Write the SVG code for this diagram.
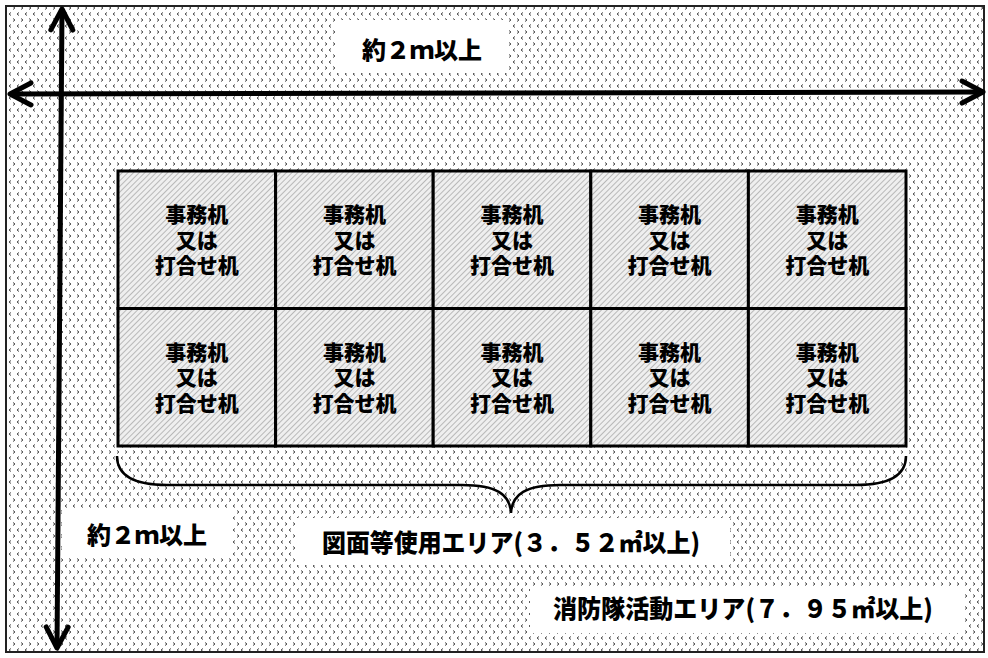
<svg xmlns="http://www.w3.org/2000/svg" width="988" height="658" viewBox="0 0 988 658">
  <defs>
    <pattern id="dots" patternUnits="userSpaceOnUse" width="8" height="12">
      <rect width="8" height="12" fill="#ffffff"/>
      <path d="M3,0.5 L1,2 L3,3.5" fill="none" stroke="#4a4a4a" stroke-width="1"/>
      <path d="M5,6.5 L7,8 L5,9.5" fill="none" stroke="#4a4a4a" stroke-width="1"/>
    </pattern>
    <pattern id="hatch" patternUnits="userSpaceOnUse" width="4" height="4" patternTransform="rotate(45)">
      <rect width="4" height="4" fill="#efefef"/>
      <line x1="0" y1="0" x2="0" y2="4" stroke="#9a9a9a" stroke-width="1.3"/>
    </pattern>
    <marker id="arrow" markerUnits="userSpaceOnUse" viewBox="-26 -14 30 28" refX="0" refY="0" markerWidth="30" markerHeight="28" orient="auto-start-reverse">
      <path d="M-21,-11 L0,0 L-21,11" fill="none" stroke="#000" stroke-width="5" stroke-linecap="round" stroke-linejoin="round"/>
    </marker>
  </defs>
  <style>
    .cell rect { fill: url(#hatch); stroke: #000; stroke-width: 3; }
    .cell text { font-family: "Noto Sans CJK JP", "Noto Sans", sans-serif; font-weight: 900; font-size: 21px; text-anchor: middle; fill: #000; }
    .label rect { fill: #ffffff; stroke: none; }
    .label text { font-family: "Noto Sans CJK JP", "Noto Sans", sans-serif; font-weight: 900; text-anchor: middle; fill: #000; }
    .arrow { fill: none; stroke: #000; stroke-width: 5; marker-start: url(#arrow); marker-end: url(#arrow); }
    .brace { fill: none; stroke: #000; stroke-width: 2.5; }
  </style>

  <rect id="background" x="6" y="6" width="978" height="646" fill="url(#dots)" stroke="#222" stroke-width="2"/>

  <g id="cells">
    <g id="cell-1-1" class="cell"><rect x="118" y="171" width="157.6" height="137.5"/><text x="196.8" y="222">事務机<tspan x="196.8" dy="25.5">又は</tspan><tspan x="196.8" dy="25.5">打合せ机</tspan></text></g>
    <g id="cell-1-2" class="cell"><rect x="275.6" y="171" width="157.6" height="137.5"/><text x="354.4" y="222">事務机<tspan x="354.4" dy="25.5">又は</tspan><tspan x="354.4" dy="25.5">打合せ机</tspan></text></g>
    <g id="cell-1-3" class="cell"><rect x="433.2" y="171" width="157.6" height="137.5"/><text x="512" y="222">事務机<tspan x="512" dy="25.5">又は</tspan><tspan x="512" dy="25.5">打合せ机</tspan></text></g>
    <g id="cell-1-4" class="cell"><rect x="590.8" y="171" width="157.6" height="137.5"/><text x="669.6" y="222">事務机<tspan x="669.6" dy="25.5">又は</tspan><tspan x="669.6" dy="25.5">打合せ机</tspan></text></g>
    <g id="cell-1-5" class="cell"><rect x="748.4" y="171" width="157.6" height="137.5"/><text x="827.2" y="222">事務机<tspan x="827.2" dy="25.5">又は</tspan><tspan x="827.2" dy="25.5">打合せ机</tspan></text></g>
    <g id="cell-2-1" class="cell"><rect x="118" y="308.5" width="157.6" height="137.5"/><text x="196.8" y="359.5">事務机<tspan x="196.8" dy="25.5">又は</tspan><tspan x="196.8" dy="25.5">打合せ机</tspan></text></g>
    <g id="cell-2-2" class="cell"><rect x="275.6" y="308.5" width="157.6" height="137.5"/><text x="354.4" y="359.5">事務机<tspan x="354.4" dy="25.5">又は</tspan><tspan x="354.4" dy="25.5">打合せ机</tspan></text></g>
    <g id="cell-2-3" class="cell"><rect x="433.2" y="308.5" width="157.6" height="137.5"/><text x="512" y="359.5">事務机<tspan x="512" dy="25.5">又は</tspan><tspan x="512" dy="25.5">打合せ机</tspan></text></g>
    <g id="cell-2-4" class="cell"><rect x="590.8" y="308.5" width="157.6" height="137.5"/><text x="669.6" y="359.5">事務机<tspan x="669.6" dy="25.5">又は</tspan><tspan x="669.6" dy="25.5">打合せ机</tspan></text></g>
    <g id="cell-2-5" class="cell"><rect x="748.4" y="308.5" width="157.6" height="137.5"/><text x="827.2" y="359.5">事務机<tspan x="827.2" dy="25.5">又は</tspan><tspan x="827.2" dy="25.5">打合せ机</tspan></text></g>
  </g>

  <g id="connectors">
    <path id="arrow-horizontal" class="arrow" d="M10,94 L983,92"/>
    <path id="arrow-vertical" class="arrow" d="M62,9 L57,648"/>
    <path id="brace" class="brace" d="M117,456 Q117,485 167,485 L462,485 C496,485 510,494 511,513 C512,494 526,485 560,485 L856,485 Q906,485 906,456"/>
  </g>

  <g id="label-top" class="label">
    <rect x="337" y="20" width="171" height="53"/>
    <text x="422" y="58.5" font-size="24" textLength="120" lengthAdjust="spacingAndGlyphs">約２ｍ以上</text>
  </g>
  <g id="label-left" class="label">
    <rect x="62" y="508" width="171" height="50"/>
    <text x="147" y="543.5" font-size="24" textLength="120" lengthAdjust="spacingAndGlyphs">約２ｍ以上</text>
  </g>
  <g id="label-area" class="label">
    <rect x="295" y="518" width="435" height="47"/>
    <text x="511" y="551.5" font-size="25" textLength="378" lengthAdjust="spacingAndGlyphs">図面等使用エリア(３．５２㎡以上)</text>
  </g>
  <g id="label-activity" class="label">
    <rect x="530" y="587" width="433" height="46"/>
    <text x="743" y="618" font-size="25" textLength="380" lengthAdjust="spacingAndGlyphs">消防隊活動エリア(７．９５㎡以上)</text>
  </g>
</svg>
